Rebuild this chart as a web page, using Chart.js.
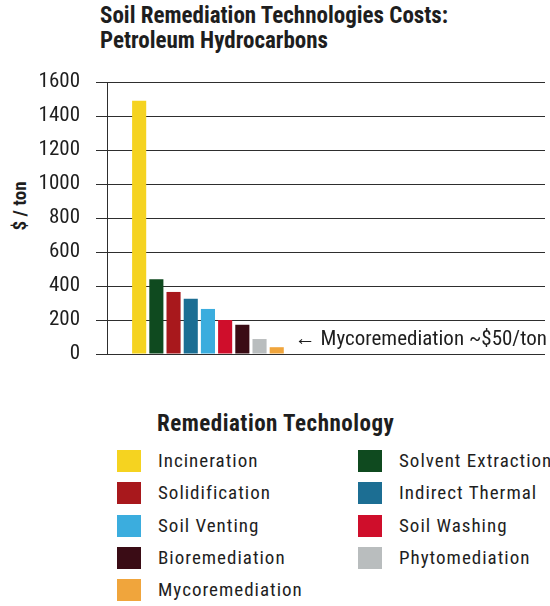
<!DOCTYPE html>
<html>
<head>
<meta charset="utf-8">
<script src="https://cdn.jsdelivr.net/npm/chart.js@4"></script>
<style>
  body { margin: 0; background: #fff; width: 550px; height: 606px; position: relative; overflow: hidden;
         font-family: 'Roboto Condensed', 'Roboto', sans-serif; color: #1e1e1e; }
  #title { position: absolute; left: 100px; top: 3px; font-weight: bold; font-size: 23px; line-height: 25px; }
  #ylabel { position: absolute; left: 19px; top: 206px; font-weight: bold; font-size: 19px;
            transform: translate(-50%, -50%) rotate(-90deg); white-space: nowrap; }
  #wrap { position: absolute; left: 0; top: 70px; width: 550px; height: 296px; }
  #legend-title { position: absolute; left: 157px; top: 410px; font-weight: bold; font-size: 23px; letter-spacing: 0.5px; }
  #legend { position: absolute; left: 117px; top: 450px; display: grid;
            grid-template-columns: 241px 170px; grid-auto-rows: 32.3px; }
  .item { display: flex; align-items: flex-start; font-size: 19px; letter-spacing: 1px; }
  .sw { width: 24px; height: 22px; margin-right: 17px; flex: none; }
  .item span { line-height: 22px; white-space: nowrap; }
</style>
</head>
<body>
<div id="title">Soil Remediation Technologies Costs:<br>Petroleum Hydrocarbons</div>
<div id="ylabel">$ / ton</div>
<div id="wrap"><canvas id="chart"></canvas></div>
<div id="legend-title">Remediation Technology</div>
<div id="legend"></div>

<script>
// technologies in bar order, cost in $ per ton
const technologies = ['Incineration', 'Solvent Extraction', 'Solidification', 'Indirect Thermal',
  'Soil Venting', 'Soil Washing', 'Bioremediation', 'Phytomediation', 'Mycoremediation'];
const costs = [1490, 440, 365, 325, 265, 200, 172, 88, 40];
const barColors = ['#f5d320', '#0f4a1f', '#a8181c', '#1c6e93', '#3badde', '#cf0e2b', '#3a0c15', '#b9bdbe', '#f0a53c'];
const yTicks = [0, 200, 400, 600, 800, 1000, 1200, 1400, 1600];

const narrow = "'Roboto Condensed', 'Roboto', sans-serif";
const ink = '#2e2e2e';

// arrow note beside the last (mycoremediation) bar
const noteLabel = {
  id: 'noteLabel',
  afterDatasetsDraw(chart) {
    const bars = chart.getDatasetMeta(0).data;
    const last = bars[bars.length - 1];
    const ctx = chart.ctx;
    ctx.save();
    ctx.font = '21px ' + narrow;
    ctx.fillStyle = '#1e1e1e';
    ctx.textBaseline = 'middle';
    ctx.fillText('\u2190 Mycoremediation ~$50/ton', last.x + last.width / 2 + 11, last.y - 7);
    ctx.restore();
  }
};

new Chart(document.getElementById('chart'), {
  type: 'bar',
  data: {
    datasets: [{
      data: costs.map((v, i) => ({ x: i, y: v })),
      backgroundColor: barColors,
      barPercentage: 1,
      categoryPercentage: 0.82
    }]
  },
  options: {
    responsive: true,
    maintainAspectRatio: false,
    animation: false,
    layout: { padding: { left: 0, right: 5, top: 12, bottom: 12 } },
    plugins: { legend: { display: false }, tooltip: { enabled: false } },
    scales: {
      x: { type: 'linear', display: false, offset: false, min: -1.87, max: 23.6 },
      y: {
        min: 0,
        max: 1600,
        afterBuildTicks: (scale) => { scale.ticks = yTicks.map(v => ({ value: v })); },
        afterFit: (scale) => {
          scale.width = 107;
          scale.paddingTop = 0;
          scale.paddingBottom = 0;
        },
        border: { display: true, color: ink, width: 1 },
        grid: { color: ink, lineWidth: 1, tickLength: 11, tickColor: ink },
        ticks: { padding: 16, color: '#1e1e1e', font: { family: narrow, size: 21 }, callback: (v) => String(v) }
      }
    }
  },
  plugins: [noteLabel]
});

// two-column legend, filled row by row
const legend = document.getElementById('legend');
technologies.forEach((name, i) => {
  const item = document.createElement('div');
  item.className = 'item';
  item.innerHTML = '<div class="sw" style="background:' + barColors[i] + '"></div><span>' + name + '</span>';
  legend.appendChild(item);
});
</script>
</body>
</html>
